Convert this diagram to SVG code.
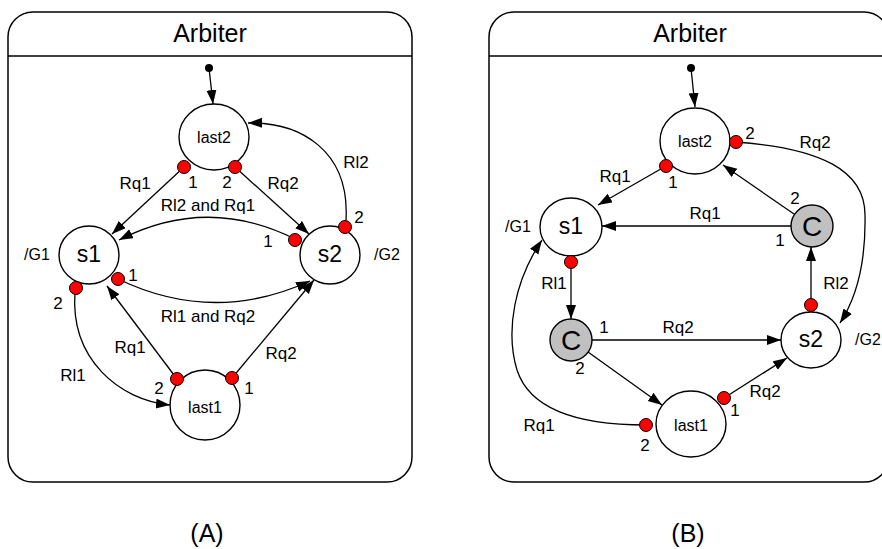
<svg xmlns="http://www.w3.org/2000/svg" width="882" height="549" viewBox="0 0 882 549">
<style>
.frame{fill:none;stroke:#000;stroke-width:1.5}
.st{fill:#fff;stroke:#000;stroke-width:1.4}
.cn{fill:#c0c0c0;stroke:#000;stroke-width:1.4}
.pt{fill:#ff0000;stroke:#000;stroke-width:1}
.ln{fill:none;stroke:#000;stroke-width:1.3}
.ar{marker-end:url(#ah)}
text{font-family:"Liberation Sans",Arial,sans-serif;fill:#000;text-anchor:middle}
.t{font-size:17px}
.n{font-size:16px}
.b{font-size:23px}
.h{font-size:25px}
.c{font-size:28px}
</style>
<defs>
<marker id="ah" markerUnits="userSpaceOnUse" markerWidth="15" markerHeight="11" refX="14" refY="5" orient="auto">
<path d="M0,0 L14,5 L0,10 z" fill="#000"/>
</marker>
</defs>

<g id="panelA">
<rect class="frame" x="8" y="12" width="404" height="470" rx="25" ry="25"/>
<line class="frame" x1="8" y1="56" x2="412" y2="56"/>
<text class="h" x="210" y="42">Arbiter</text>
<text class="h" x="207" y="542">(A)</text>
</g>

<g id="panelB">
<rect class="frame" x="489" y="12" width="400" height="470" rx="25" ry="25"/>
<line class="frame" x1="489" y1="56" x2="882" y2="56"/>
<text class="h" x="690" y="42">Arbiter</text>
<text class="h" x="688" y="542">(B)</text>
</g>

<g id="connectors">
<!-- A -->
<line class="ln ar" x1="209" y1="68" x2="213" y2="104"/>
<line class="ln ar" x1="184" y1="167" x2="112" y2="234"/>
<line class="ln ar" x1="235" y1="167" x2="309" y2="234"/>
<path class="ln ar" d="M295,239 Q207,195 119,240"/>
<path class="ln ar" d="M118,279 Q214,325 310,281"/>
<path class="ln ar" d="M75,292 C70,360 120,400 170,405"/>
<line class="ln ar" x1="177" y1="379" x2="107" y2="286"/>
<line class="ln ar" x1="232" y1="378" x2="314" y2="280"/>
<path class="ln ar" d="M346,220 C350,150 300,122 248,123"/>
<!-- B -->
<line class="ln ar" x1="691" y1="68" x2="695" y2="107"/>
<line class="ln ar" x1="666" y1="166" x2="598" y2="205"/>
<line class="ln ar" x1="794" y1="214" x2="723" y2="165"/>
<line class="ln ar" x1="791" y1="226" x2="602" y2="226"/>
<line class="ln ar" x1="571" y1="262" x2="571" y2="319"/>
<line class="ln ar" x1="592" y1="340" x2="781" y2="340"/>
<line class="ln ar" x1="811" y1="305" x2="811" y2="247"/>
<line class="ln ar" x1="588" y1="352" x2="662" y2="405"/>
<line class="ln ar" x1="724" y1="398" x2="787" y2="358"/>
<path class="ln ar" d="M646,425 C580,425 530,410 517,370 C505,330 515,280 542,240"/>
<path class="ln ar" d="M736,142 C820,148 865,170 865,215 C866,265 855,300 840,323"/>
</g>

<g id="initA"><circle cx="209" cy="68" r="4" fill="#000"/></g>
<g id="initB"><circle cx="691" cy="68" r="4" fill="#000"/></g>

<g id="A_last2"><ellipse class="st" cx="214" cy="137" rx="35" ry="33"/><text class="n" x="214" y="143">last2</text></g>
<g id="A_s1"><ellipse class="st" cx="89" cy="255" rx="30" ry="29"/><text class="b" x="89" y="262">s1</text></g>
<g id="A_s2"><ellipse class="st" cx="330" cy="255" rx="30" ry="29"/><text class="b" x="330" y="262">s2</text></g>
<g id="A_last1"><ellipse class="st" cx="205" cy="405" rx="35" ry="35"/><text class="n" x="205" y="413">last1</text></g>

<g id="B_last2"><ellipse class="st" cx="695" cy="141" rx="35" ry="33"/><text class="n" x="695" y="147">last2</text></g>
<g id="B_s1"><ellipse class="st" cx="571" cy="227" rx="31" ry="29"/><text class="b" x="571" y="234">s1</text></g>
<g id="B_C1"><circle class="cn" cx="812" cy="226" r="21"/><text class="c" x="812" y="236">C</text></g>
<g id="B_C2"><circle class="cn" cx="571" cy="340" r="21"/><text class="c" x="571" y="350">C</text></g>
<g id="B_s2"><ellipse class="st" cx="811" cy="340" rx="30" ry="28"/><text class="b" x="811" y="347">s2</text></g>
<g id="B_last1"><ellipse class="st" cx="691" cy="424" rx="35" ry="33"/><text class="n" x="691" y="431">last1</text></g>

<g id="ports">
<circle class="pt" cx="184" cy="167" r="6.5"/>
<circle class="pt" cx="235" cy="167" r="6.5"/>
<circle class="pt" cx="295" cy="240" r="6.5"/>
<circle class="pt" cx="345" cy="227" r="6.5"/>
<circle class="pt" cx="118" cy="279" r="6.5"/>
<circle class="pt" cx="76" cy="288" r="6.5"/>
<circle class="pt" cx="177" cy="379" r="6.5"/>
<circle class="pt" cx="232" cy="378" r="6.5"/>
<circle class="pt" cx="736" cy="142" r="6.5"/>
<circle class="pt" cx="666" cy="166" r="6.5"/>
<circle class="pt" cx="571" cy="262" r="6.5"/>
<circle class="pt" cx="811" cy="305" r="6.5"/>
<circle class="pt" cx="646" cy="425" r="6.5"/>
<circle class="pt" cx="724" cy="398" r="6.5"/>
</g>

<g id="labelsA">
<text class="n" x="37" y="260">/G1</text>
<text class="n" x="387" y="260">/G2</text>
<text class="t" x="193" y="188">1</text>
<text class="t" x="227" y="188">2</text>
<text class="t" x="135" y="189">Rq1</text>
<text class="t" x="283" y="189">Rq2</text>
<text class="t" x="356" y="168">Rl2</text>
<text class="t" x="208" y="211">Rl2 and Rq1</text>
<text class="t" x="268" y="247">1</text>
<text class="t" x="359" y="223">2</text>
<text class="t" x="133" y="281">1</text>
<text class="t" x="58" y="309">2</text>
<text class="t" x="208" y="322">Rl1 and Rq2</text>
<text class="t" x="130" y="353">Rq1</text>
<text class="t" x="281" y="359">Rq2</text>
<text class="t" x="73" y="381">Rl1</text>
<text class="t" x="159" y="394">2</text>
<text class="t" x="249" y="394">1</text>
</g>

<g id="labelsB">
<text class="n" x="518" y="232">/G1</text>
<text class="n" x="855" y="345" style="text-anchor:start">/G2</text>
<text class="t" x="750" y="139">2</text>
<text class="t" x="673" y="188">1</text>
<text class="t" x="615" y="182">Rq1</text>
<text class="t" x="815" y="148">Rq2</text>
<text class="t" x="795" y="204">2</text>
<text class="t" x="780" y="246">1</text>
<text class="t" x="705" y="219">Rq1</text>
<text class="t" x="554" y="289">Rl1</text>
<text class="t" x="836" y="289">Rl2</text>
<text class="t" x="604" y="333">1</text>
<text class="t" x="678" y="333">Rq2</text>
<text class="t" x="580" y="374">2</text>
<text class="t" x="765" y="397">Rq2</text>
<text class="t" x="735" y="416">1</text>
<text class="t" x="645" y="451">2</text>
<text class="t" x="539" y="431">Rq1</text>
</g>
</svg>
